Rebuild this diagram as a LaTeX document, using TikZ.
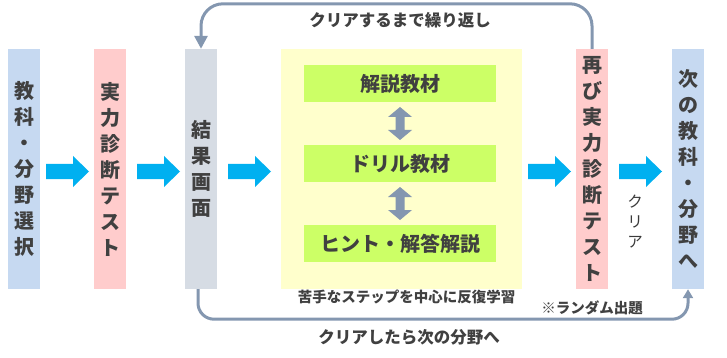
\documentclass[tikz,border=0pt]{standalone}
\usepackage{fontspec}
\setmainfont{Noto Sans CJK JP}
\usetikzlibrary{arrows.meta}
\definecolor{cblue}{HTML}{C6D9F1}
\definecolor{cpink}{HTML}{FFCCCC}
\definecolor{cgray}{HTML}{D6DCE4}
\definecolor{cyellow}{HTML}{FFFFCC}
\definecolor{cgreen}{HTML}{CCFF66}
\definecolor{carrow}{HTML}{00B0F0}
\definecolor{cloop}{HTML}{8497B0}
\definecolor{ctxt}{HTML}{404040}
\begin{document}
\begin{tikzpicture}[x=1pt,y=-1pt,
  vbox/.style={minimum width=32pt, minimum height=240pt, inner sep=0pt, align=center, text=ctxt,
    font=\bfseries\fontsize{20}{26}\selectfont},
  gbox/.style={fill=cgreen, minimum width=192pt, minimum height=37pt, inner sep=0pt, text=ctxt,
    font=\bfseries\fontsize{20}{22}\selectfont},
  loopline/.style={draw=cloop, line width=3pt},
  lbl/.style={text=ctxt, inner sep=0pt, font=\bfseries\fontsize{14.5}{16}\selectfont},
  biglbl/.style={lbl, font=\bfseries\fontsize{16.5}{18}\selectfont},
  blockarrow/.pic={\fill[carrow] (0,-7.5) -- (27,-7.5) -- (27,-15.5) -- (43,0) -- (27,15.5) -- (27,7.5) -- (0,7.5) -- cycle;},
  dblarrow/.pic={\fill[cloop] (0,-16.5) -- (12,-6.5) -- (4.5,-6.5) -- (4.5,6.5) -- (12,6.5) -- (0,16.5) -- (-12,6.5) -- (-4.5,6.5) -- (-4.5,-6.5) -- (-12,-6.5) -- cycle;}
]
\useasboundingbox (0,0) rectangle (727,358);

% main columns
\node[vbox, fill=cblue] (b1) at (24,169) {教\\科\\・\\分\\野\\選\\択};
\node[vbox, fill=cpink] (b2) at (110,169) {実\\力\\診\\断\\テ\\ス\\ト};
\node[vbox, fill=cgray] (b3) at (201,169) {結\\果\\画\\面};
\node[fill=cyellow, minimum width=241pt, minimum height=240pt, inner sep=0pt] (study) at (401.5,169) {};
\node[vbox, fill=cpink] (b4) at (592,169) {再\\び\\実\\力\\診\\断\\テ\\ス\\ト};
\node[vbox, fill=cblue] (b5) at (688,169) {次\\の\\教\\科\\・\\分\\野\\へ};

% study steps
\node[gbox] (g1) at (400,83.5) {解説教材};
\node[gbox] (g2) at (400,163.5) {ドリル教材};
\node[gbox] (g3) at (400,243.5) {ヒント・解答解説};
\path (g1.south) -- (g2.north) coordinate[midway] (m1);
\path (g2.south) -- (g3.north) coordinate[midway] (m2);
\pic at (m1) {dblarrow};
\pic at (m2) {dblarrow};

% block arrows
\pic at (46,171.5) {blockarrow};
\pic at (137,171.5) {blockarrow};
\pic at (228,171.5) {blockarrow};
\pic at (528,171.5) {blockarrow};
\pic at (619,171.5) {blockarrow};

% loops
\draw[loopline, rounded corners=22pt, -{Triangle[width=13pt,length=13pt]}]
  (b4.north) -- ++(0,-45) -| (b3.north);
\draw[loopline, rounded corners=16pt, -{Triangle[width=10pt,length=9pt]}]
  ([xshift=-3pt]b3.south) -- ++(0,30) -| (b5.south);

% labels
\node[biglbl] (t1) at (400,20.5) {クリアするまで繰り返し};
\node[lbl] (t2) at (406.5,297) {苦手なステップを中心に反復学習};
\node[biglbl] (t3) at (409,337) {クリアしたら次の分野へ};
\node[lbl] (t4) at (592,308) {※ランダム出題};
\node[text=ctxt!90!black, inner sep=0pt, align=center, font=\fontsize{15.5}{20}\selectfont] (t5) at (635,222) {ク\\リ\\ア};
\end{tikzpicture}
\end{document}
